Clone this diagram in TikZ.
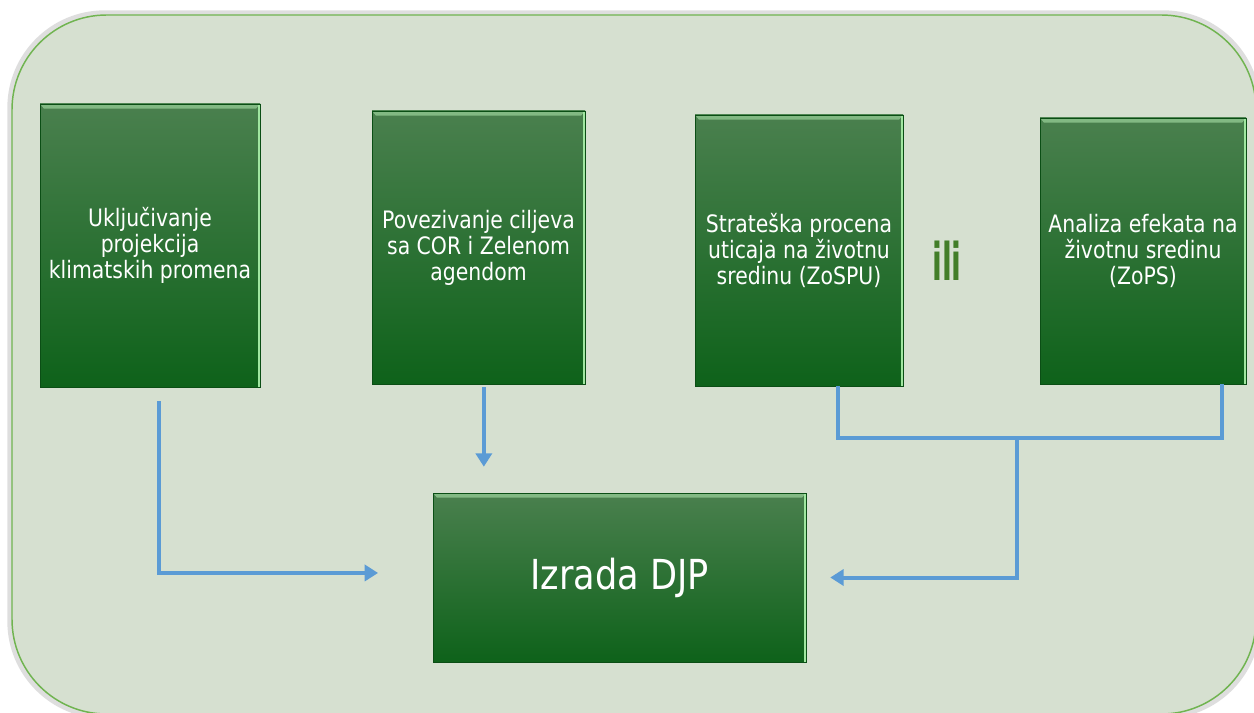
\documentclass[tikz,border=0pt]{standalone}
\usepackage{fontspec}
\usetikzlibrary{arrows.meta,calc}
\newfontfamily\boxfont[FakeStretch=0.85]{DejaVu Sans}
\newfontfamily\ilifont{DejaVu Sans Bold}
\definecolor{bgfill}{RGB}{214,224,208}
\definecolor{bgline}{RGB}{112,180,80}
\definecolor{boxtop}{RGB}{74,128,78}
\definecolor{boxmid}{RGB}{30,114,42}
\definecolor{boxbot}{RGB}{14,98,26}
\definecolor{bevel}{RGB}{150,205,150}
\definecolor{edgehi}{RGB}{160,230,160}
\definecolor{conncol}{RGB}{91,155,213}
\definecolor{ilicol}{RGB}{66,126,40}
\tikzset{
  greenbox/.style={rectangle, inner sep=2pt, text=white, align=center,
    top color=boxtop, middle color=boxmid, bottom color=boxbot,
    draw=boxbot!80!black, line width=0.4pt,
    path picture={
      \fill[bevel, opacity=0.75] (path picture bounding box.north west) -- (path picture bounding box.north east)
        -- ([xshift=-3pt,yshift=-3.5pt]path picture bounding box.north east)
        -- ([xshift=3pt,yshift=-3.5pt]path picture bounding box.north west) -- cycle;
      \draw[edgehi, line width=1.2pt] ([xshift=-0.6pt]path picture bounding box.north east) -- ([xshift=-0.6pt]path picture bounding box.south east);
    },
    font=\boxfont\fontsize{18pt}{19.5pt}\selectfont},
  conn/.style={draw=conncol, line width=3pt},
  connarrow/.style={conn, -{Triangle[length=10pt,width=12pt]}}
}
\begin{document}
\begin{tikzpicture}[x=0.75pt,y=-0.75pt]
\useasboundingbox (0,0) rectangle (1254,713);
\fill[white] (0,0) rectangle (1254,713);
% background panel with soft shadow
\draw[black!25, line width=4pt, opacity=0.5, rounded corners=71pt] (10,13) rectangle (1258,716);
\draw[fill=bgfill, draw=bgline, line width=1.1pt, rounded corners=71pt] (12,15) rectangle (1256,714);

% boxes
\node[greenbox, minimum width=165pt, minimum height=212.25pt] (A) at (150,245.5)
  {Uključivanje\\projekcija\\klimatskih promena};
\node[greenbox, minimum width=159.75pt, minimum height=204.75pt] (B) at (478.5,247.5)
  {Povezivanje ciljeva\\sa COR i Zelenom\\agendom};
\node[greenbox, minimum width=156pt, minimum height=203.25pt] (C) at (799,250.5)
  {Strateška procena\\uticaja na životnu\\sredinu (ZoSPU)};
\node[greenbox, minimum width=154.5pt, minimum height=199.5pt] (D) at (1143,251)
  {Analiza efekata na\\životnu sredinu\\(ZoPS)};
\node[greenbox, minimum width=279.75pt, minimum height=126.75pt,
  font=\boxfont\fontsize{31pt}{34pt}\selectfont] (E) at (619.5,577.5) {Izrada DJP};

\node[inner sep=0pt, text=ilicol, font=\ilifont\fontsize{39pt}{40pt}\selectfont] (ili) at (947,261)
  {\scalebox{0.55}[1]{ili}};

% connectors
\coordinate (J) at (1017,438);
\draw[connarrow, shorten >=41pt] ([xshift=6.75pt,yshift=-10.5pt]A.south) |- ([yshift=3.4pt]E.west);
\draw[connarrow, shorten >=19.5pt] ([xshift=4pt,yshift=-2.25pt]B.south) -- ([xshift=4pt]B.south |- E.north);
\draw[conn] ([xshift=29.25pt]C.south) |- (J) -| ([xshift=59.25pt]D.south);
\draw[connarrow, shorten >=18pt] (J) |- (E.east);
\end{tikzpicture}
\end{document}
